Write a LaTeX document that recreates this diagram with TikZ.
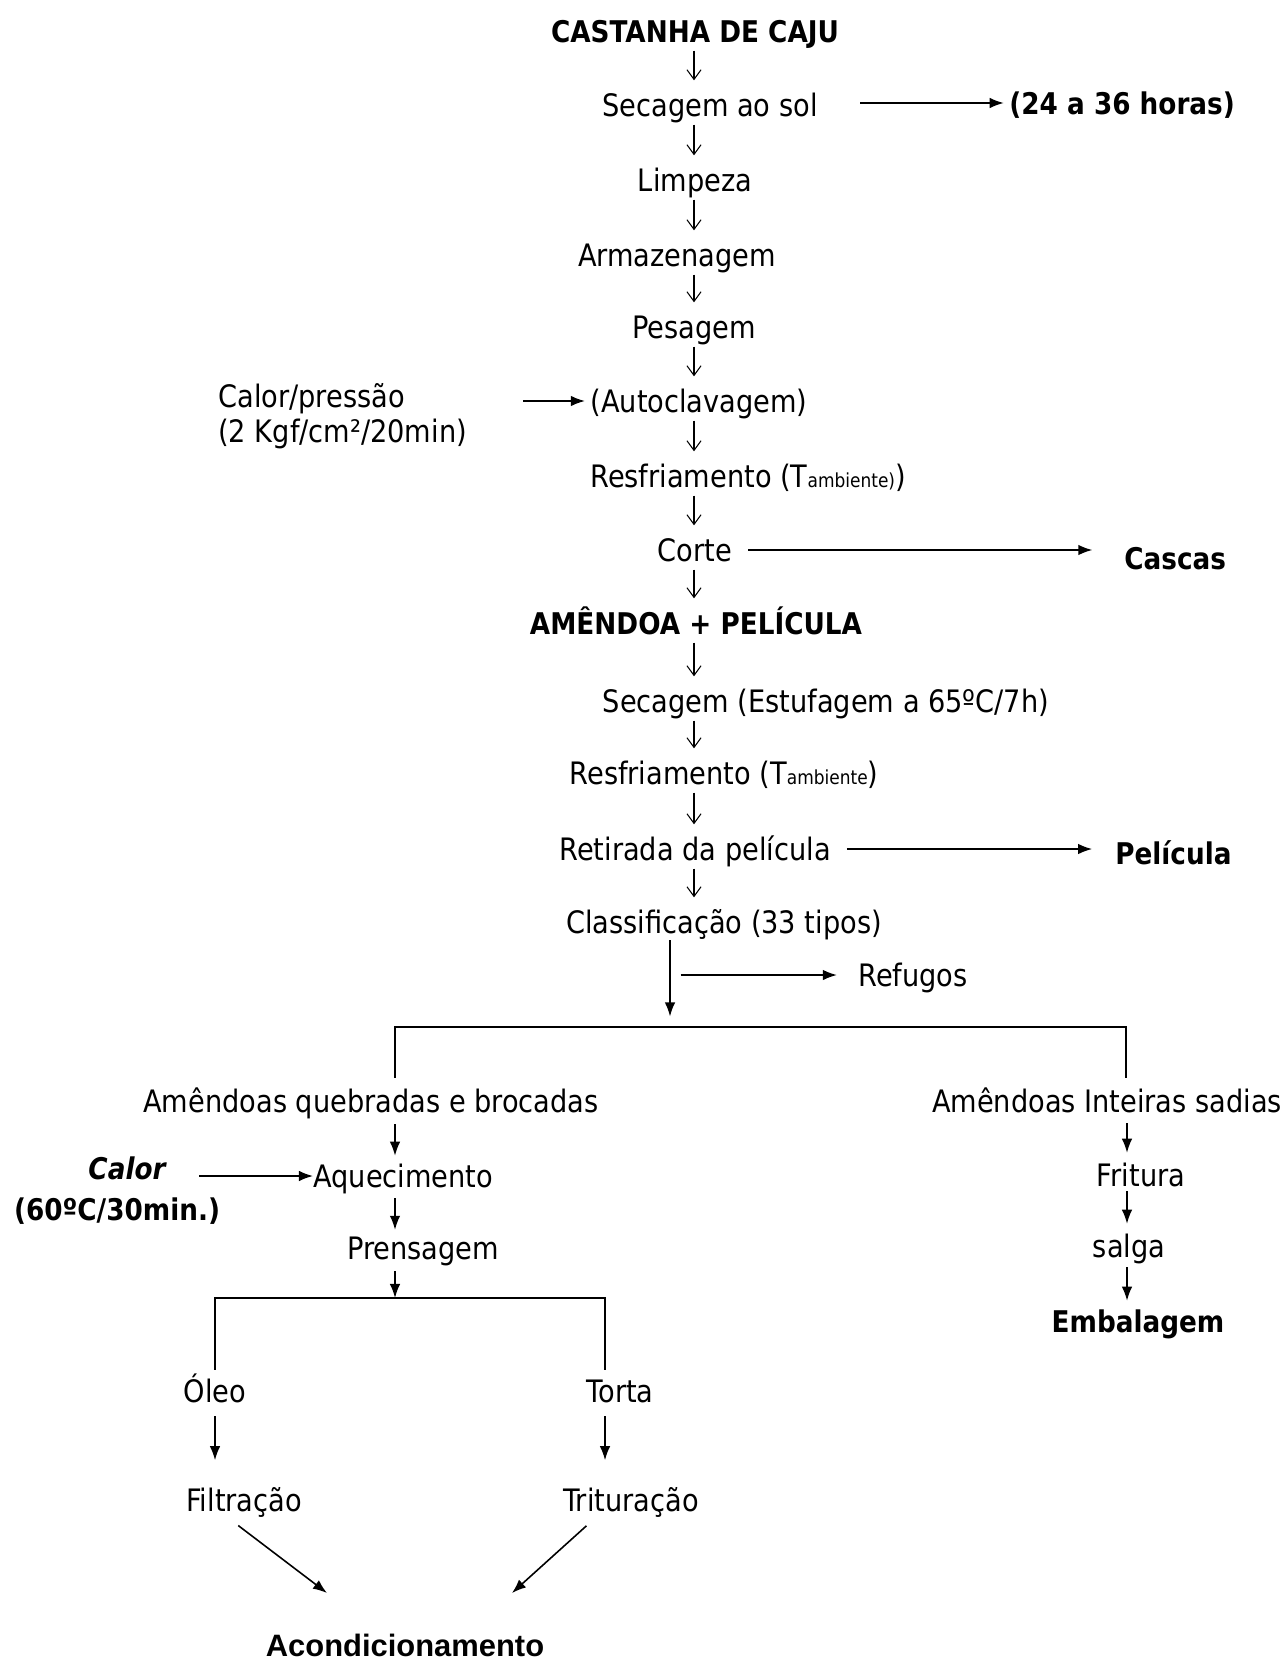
\documentclass[tikz,border=0pt]{standalone}
\usepackage{fontspec}
\setmainfont{DejaVu Sans}[FakeStretch=0.88]
\newfontfamily\arialfont{Liberation Sans}
\usetikzlibrary{arrows.meta,calc}
\newcommand\ambtxt[1]{{\fontsize{11}{12}\selectfont #1}}
\begin{document}
\begin{tikzpicture}[x=0.02cm,y=-0.02cm,
  every node/.style={inner sep=0pt, font=\fontsize{17.6}{21}\selectfont, text height=12.9pt, text depth=0pt},
  bf/.style={font=\fontsize{17}{21}\selectfont\bfseries},
  tarr/.style={-{Straight Barb[length=5.5pt,width=8pt]}, line width=0.6pt, shorten <=4.5pt, shorten >=7.4pt},
  farr/.style={-{Latex[length=8pt,width=6pt]}, line width=0.9pt},
  ln/.style={line width=0.9pt}]
\useasboundingbox (0,0) rectangle (1283,1665);
% coordinates
\coordinate (col) at (694,0);
\coordinate (vc) at (670,0);
\coordinate (bl) at (395,1027);
\coordinate (brr) at (1126,1027);
\coordinate (sp) at (395,1298);
\coordinate (tl) at (215,1298);
\coordinate (tr) at (605,1298);
\coordinate (rc) at (1127,0);
\coordinate (a1) at (327,1593);
\coordinate (a2) at (512,1593);
% nodes
\node[bf] (castanha) at (695,31) {CASTANHA DE CAJU};
\node (sol) at (710,105) {Secagem ao sol};
\node[bf, anchor=west] (horas) at (1009,103) {(24 a 36 horas)};
\node (limpeza) at (695,180) {Limpeza};
\node (armaz) at (677,255) {Armazenagem};
\node (pesagem) at (694,327) {Pesagem};
\node[anchor=west] (calorp1) at (218,396) {Calor/pressão};
\node[anchor=west] (calorp2) at (218,431) {(2 Kgf/cm²/20min)};
\node (autoclav) at (699,401) {(Autoclavagem)};
\node (resf1) at (748,476) {Resfriamento (T\ambtxt{ambiente)})};
\node (corte) at (695,550) {Corte};
\node[bf, anchor=west] (cascas) at (1124,558) {Cascas};
\node[bf] (amendoa) at (696,623) {AMÊNDOA + PELÍCULA};
\node (sec2) at (826,701) {Secagem (Estufagem a 65ºC/7h)};
\node (resf2) at (724,773) {Resfriamento (T\ambtxt{ambiente})};
\node (retirada) at (695,849) {Retirada da película};
\node[bf, anchor=west] (pelicula) at (1115,853) {Película};
\node (classif) at (724,922) {Classificação (33 tipos)};
\node[anchor=west] (refugos) at (858,975) {Refugos};
\node (quebradas) at (371,1101) {Amêndoas quebradas e brocadas};
\node (inteiras) at (1107,1101) {Amêndoas Inteiras sadias};
\node[font=\fontsize{17}{21}\selectfont\bfseries\itshape] (calor) at (127,1168) {Calor};
\node[bf] (sessenta) at (117,1209) {(60ºC/30min.)};
\node[anchor=west] (aquec) at (313,1176) {Aquecimento};
\node (prensagem) at (423,1248) {Prensagem};
\node (oleo) at (215,1391) {Óleo};
\node (torta) at (620,1391) {Torta};
\node (filtracao) at (244,1500) {Filtração};
\node (trituracao) at (631,1500) {Trituração};
\node[font=\arialfont\fontsize{17.6}{21}\selectfont\bfseries] (acond) at (405,1645) {Acondicionamento};
\node (fritura) at (1141,1175) {Fritura};
\node (salga) at (1129,1246) {salga};
\node[bf] (embalagem) at (1138,1321) {Embalagem};
% main column thin arrows
\foreach \a/\b in {castanha/sol, sol/limpeza, limpeza/armaz, armaz/pesagem, pesagem/autoclav, autoclav/resf1, resf1/corte, corte/amendoa, amendoa/sec2, sec2/resf2, resf2/retirada, retirada/classif}
  \draw[tarr] (\a.south -| col) -- (\b.north -| col);
% side arrows
\draw[farr, shorten <=24pt, shorten >=3pt] (sol.east |- horas.west) -- (horas.west);
\draw[farr, shorten <=32pt, shorten >=3pt] (calorp2.east |- autoclav.west) -- (autoclav.west);
\draw[farr, shorten <=9pt, shorten >=18pt] (corte.east) -- (cascas.west |- corte.east);
\draw[farr, shorten <=9pt, shorten >=13pt] (retirada.east) -- (pelicula.west |- retirada.east);
\draw[farr, shorten <=3.7pt, shorten >=6pt] (classif.south -| vc) -- (bl -| vc);
\draw[farr, shorten <=6pt, shorten >=12pt] (refugos.west -| vc) -- (refugos.west);
% branch
\draw[ln, shorten <=6.6pt, shorten >=6.6pt] (quebradas.north -| bl) -- (bl) -- (brr) -- (inteiras.north -| brr);
% left column
\draw[farr, shorten <=6.6pt, shorten >=4.9pt] (quebradas.south -| bl) -- (aquec.north -| bl);
\draw[farr, shorten <=6pt, shorten >=3.7pt] (aquec.south -| bl) -- (prensagem.north -| bl);
\draw[farr, shorten <=6.6pt] (prensagem.south -| sp) -- (sp);
\draw[farr, shorten <=19pt] (calor.east |- aquec.west) -- (aquec.west);
\draw[ln, shorten <=5.4pt, shorten >=5.4pt] (oleo.north) -- (tl) -- (tr) -- (torta.north -| tr);
\draw[farr, shorten <=7.7pt, shorten >=16pt] (oleo.south) -- (filtracao.north -| oleo.south);
\draw[farr, shorten <=7.7pt, shorten >=16pt] (torta.south -| tr) -- (trituracao.north -| tr);
\draw[farr, shorten <=13pt] (filtracao.206) -- (a1);
\draw[farr, shorten <=12pt] (trituracao.202) -- (a2);
% right column
\draw[farr, shorten <=6pt, shorten >=6pt] (inteiras.south -| rc) -- (fritura.north -| rc);
\draw[farr, shorten <=2.6pt, shorten >=6pt] (fritura.south -| rc) -- (salga.north -| rc);
\draw[farr, shorten <=5.4pt, shorten >=4.9pt] (salga.south -| rc) -- (embalagem.north -| rc);
\end{tikzpicture}
\end{document}
